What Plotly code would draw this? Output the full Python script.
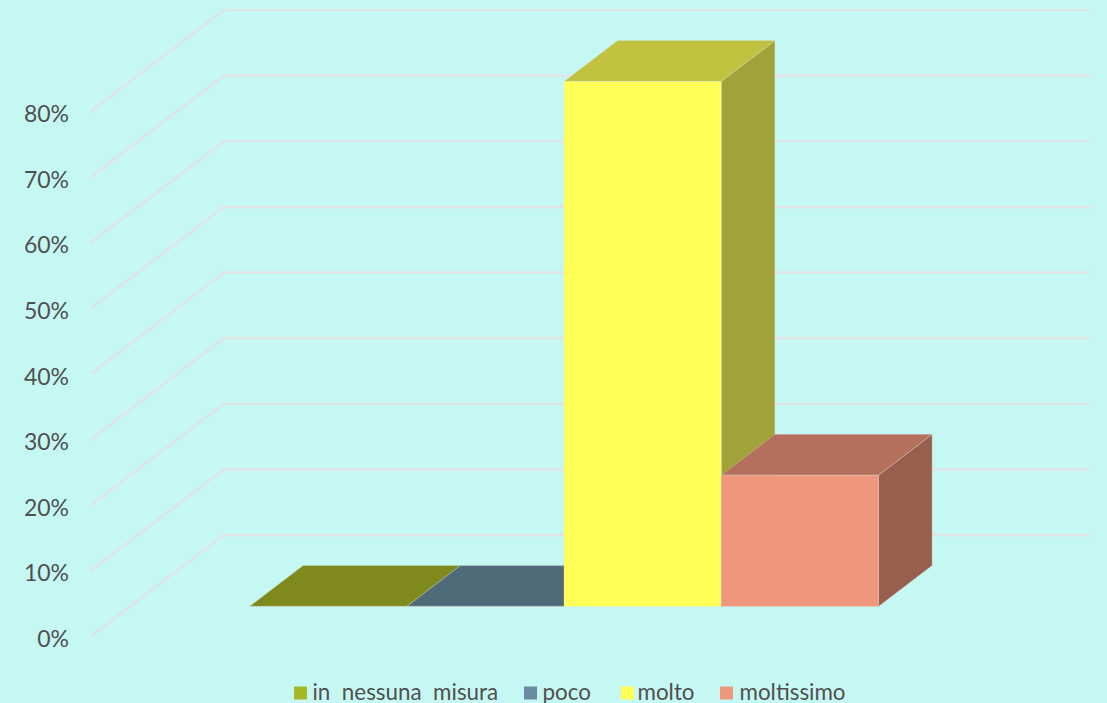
import plotly.graph_objects as go

# Survey responses, in percent
categories = ["in  nessuna  misura", "poco", "molto", "moltissimo"]
values = [0, 0, 80, 20]
value_ticks = [0, 10, 20, 30, 40, 50, 60, 70, 80]
tick_labels = ["0%", "10%", "20%", "30%", "40%", "50%", "60%", "70%", "80%"]

front_colors = ["#a6b727", "#6a8ba3", "#ffff57", "#ee977d"]
top_colors = ["#7e8a1c", "#4f6b7a", "#c0c240", "#b5705d"]
side_colors = ["#6a7418", "#435a66", "#a1a33a", "#985f4f"]

BACKGROUND = "#c6f8f3"
GRID = "#dfe4e6"
TEXT = "#505050"
FONT = "Lato, Carlito, sans-serif"

WIDTH, HEIGHT = 1107, 703
PX_PER_UNIT = 6.5625       # vertical pixels per percentage point
ZERO_PX = 637              # pixel row of 0% on the front edge
DEPTH_X = 134              # horizontal shift of the whole floor depth
DEPTH_V = 102 / PX_PER_UNIT  # vertical shift of the floor depth, in percent
FLOOR_LEFT = 90
FLOOR_WIDTH = 866
GROUP_LEFT = 209.3
BAR_WIDTH = 157.25
BAR_Z0, BAR_Z1 = 0.3, 0.7


def project(x, v, z):
    """Oblique projection of a floor position, value and depth onto the plane."""
    return x + z * DEPTH_X, v + z * DEPTH_V


def polygon(points):
    coords = [project(*p) for p in points]
    coords.append(coords[0])
    return [c[0] for c in coords], [c[1] for c in coords]


def face(points, color):
    xs, ys = polygon(points)
    return go.Scatter(
        x=xs, y=ys, mode="lines", fill="toself", fillcolor=color,
        line=dict(color="rgba(215,225,215,0.3)", width=1),
        hoverinfo="skip", showlegend=False,
    )


fig = go.Figure()

# Walls: one segment up the side wall and one along the back wall per tick
grid_x, grid_y = [], []
for tick in value_ticks:
    for x, z in [(FLOOR_LEFT, 0), (FLOOR_LEFT, 1), (FLOOR_LEFT + FLOOR_WIDTH, 1)]:
        px, pv = project(x, tick, z)
        grid_x.append(px)
        grid_y.append(pv)
    grid_x.append(None)
    grid_y.append(None)
fig.add_trace(go.Scatter(
    x=grid_x, y=grid_y, mode="lines", line=dict(color=GRID, width=2.6),
    hoverinfo="skip", showlegend=False,
))

# Bars, each built from its side, top and front faces
for i, value in enumerate(values):
    x0 = GROUP_LEFT + i * BAR_WIDTH
    x1 = x0 + BAR_WIDTH
    fig.add_trace(face(
        [(x1, 0, BAR_Z0), (x1, 0, BAR_Z1), (x1, value, BAR_Z1), (x1, value, BAR_Z0)],
        side_colors[i],
    ))
    fig.add_trace(face(
        [(x0, value, BAR_Z0), (x1, value, BAR_Z0), (x1, value, BAR_Z1), (x0, value, BAR_Z1)],
        top_colors[i],
    ))
    fig.add_trace(face(
        [(x0, 0, BAR_Z0), (x1, 0, BAR_Z0), (x1, value, BAR_Z0), (x0, value, BAR_Z0)],
        front_colors[i],
    ))

# Key along the bottom edge: swatches, then their labels
KEY_SWATCHES = [300.5, 530.5, 627.5, 726.5]
KEY_LABELS = [312.5, 542.5, 637.5, 739.5]
KEY_ROW = (ZERO_PX - 693) / PX_PER_UNIT
LABEL_ROW = (ZERO_PX - 694) / PX_PER_UNIT
fig.add_trace(go.Scatter(
    x=KEY_SWATCHES, y=[KEY_ROW] * len(categories), mode="markers",
    marker=dict(symbol="square", size=13, color=front_colors, line=dict(width=0)),
    hoverinfo="skip", showlegend=False,
))
fig.add_trace(go.Scatter(
    x=KEY_LABELS, y=[LABEL_ROW] * len(categories), mode="text",
    text=categories, textposition="middle right",
    textfont=dict(family=FONT, size=22.4, color=TEXT),
    hoverinfo="skip", showlegend=False,
))

fig.update_layout(
    width=WIDTH, height=HEIGHT,
    margin=dict(l=FLOOR_LEFT, r=0, t=0, b=0),
    paper_bgcolor=BACKGROUND, plot_bgcolor=BACKGROUND,
    showlegend=False,
    xaxis=dict(range=[FLOOR_LEFT, WIDTH], visible=False, fixedrange=True),
    yaxis=dict(
        range=[(ZERO_PX - HEIGHT) / PX_PER_UNIT, ZERO_PX / PX_PER_UNIT],
        tickmode="array", tickvals=value_ticks, ticktext=tick_labels,
        ticks="", showgrid=False, zeroline=False, showline=False,
        ticklabelstandoff=20, ticklabelshift=2, fixedrange=True,
        tickfont=dict(family=FONT, size=23, color=TEXT),
    ),
)

fig.write_html("out.html", config=dict(displayModeBar=False))
